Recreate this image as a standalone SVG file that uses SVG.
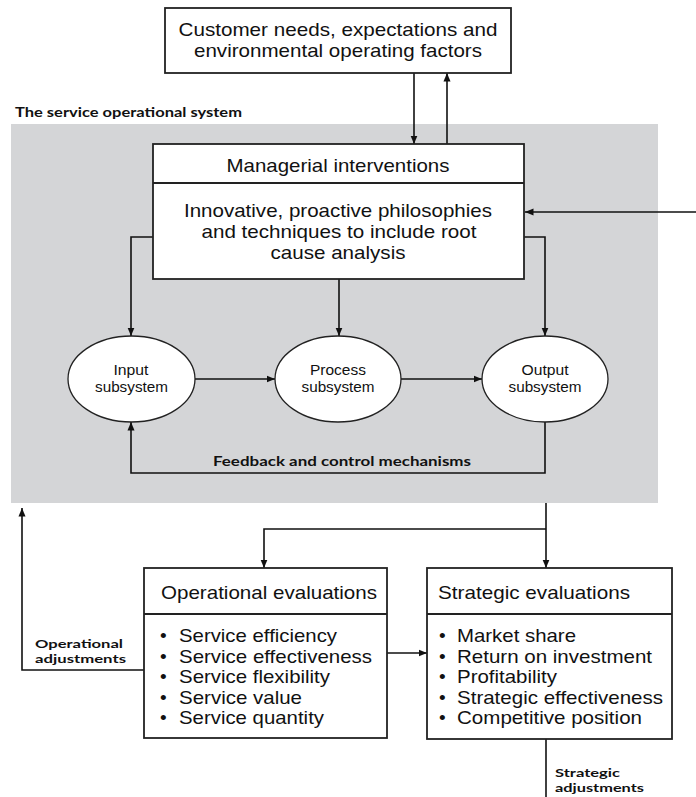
<svg xmlns="http://www.w3.org/2000/svg" width="696" height="797" viewBox="0 0 696 797">
<defs>
<marker id="ah" markerUnits="userSpaceOnUse" markerWidth="9" markerHeight="8" refX="8.5" refY="4" orient="auto">
<path d="M0,0.5 L8.5,4 L0,7.5 z" fill="#111"/>
</marker>
<style>
.box{fill:#fff;stroke:#222;stroke-width:1.8}
.ell{fill:#fff;stroke:#222;stroke-width:1.3}
.ln{fill:none;stroke:#111;stroke-width:1.6}
.t{font-family:"Liberation Sans",Arial,sans-serif;font-size:19px;fill:#111}
.e{font-family:"Liberation Sans",Arial,sans-serif;font-size:15px;fill:#111}
.b{font-family:Lato,"Open Sans",sans-serif;font-weight:700;font-size:13px;fill:#111}
.s{font-family:Lato,"Open Sans",sans-serif;font-weight:700;font-size:12px;fill:#111}
</style>
</defs>
<rect width="696" height="797" fill="#fff"/>
<text class="b" x="15" y="117" textLength="227" lengthAdjust="spacingAndGlyphs">The service operational system</text>
<rect x="11" y="124" width="647" height="379" fill="#d4d5d7"/>

<g id="connectors">
<line class="ln" x1="414" y1="73" x2="414" y2="144" marker-end="url(#ah)"/>
<line class="ln" x1="447" y1="144" x2="447" y2="73" marker-end="url(#ah)"/>
<line class="ln" x1="696" y1="212" x2="525" y2="212" marker-end="url(#ah)"/>
<polyline class="ln" points="153,237 131,237 131,336" marker-end="url(#ah)"/>
<line class="ln" x1="339" y1="279" x2="339" y2="336" marker-end="url(#ah)"/>
<polyline class="ln" points="524,237 545,237 545,336" marker-end="url(#ah)"/>
<line class="ln" x1="195" y1="379" x2="275" y2="379" marker-end="url(#ah)"/>
<line class="ln" x1="401" y1="379" x2="482" y2="379" marker-end="url(#ah)"/>
<polyline class="ln" points="545,422 545,473 131,473 131,422" marker-end="url(#ah)"/>
<text class="b" x="213" y="466" textLength="258" lengthAdjust="spacingAndGlyphs">Feedback and control mechanisms</text>
<polyline class="ln" points="546,503 546,568" marker-end="url(#ah)"/>
<polyline class="ln" points="546,529 264,529 264,568" marker-end="url(#ah)"/>
<line class="ln" x1="386" y1="653" x2="427" y2="653" marker-end="url(#ah)"/>
<polyline class="ln" points="144,670 22,670 22,508" marker-end="url(#ah)"/>
<text class="s" x="35" y="648" textLength="88" lengthAdjust="spacingAndGlyphs">Operational</text>
<text class="s" x="35" y="663" textLength="91" lengthAdjust="spacingAndGlyphs">adjustments</text>
<line class="ln" x1="546" y1="739" x2="546" y2="797"/>
<text class="s" x="555" y="777" textLength="65" lengthAdjust="spacingAndGlyphs">Strategic</text>
<text class="s" x="555" y="792" textLength="89" lengthAdjust="spacingAndGlyphs">adjustments</text>
</g>

<g id="customer">
<rect class="box" x="165" y="8" width="346" height="65"/>
<text class="t" x="338" y="36" text-anchor="middle" textLength="319" lengthAdjust="spacingAndGlyphs">Customer needs, expectations and</text>
<text class="t" x="338" y="57" text-anchor="middle" textLength="288" lengthAdjust="spacingAndGlyphs">environmental operating factors</text>
</g>

<g id="managerial">
<rect class="box" x="153" y="144" width="371" height="135"/>
<line class="box" x1="153" y1="183" x2="524" y2="183"/>
<text class="t" x="338" y="172" text-anchor="middle" textLength="223" lengthAdjust="spacingAndGlyphs">Managerial interventions</text>
<text class="t" x="338" y="217" text-anchor="middle" textLength="308" lengthAdjust="spacingAndGlyphs">Innovative, proactive philosophies</text>
<text class="t" x="339" y="238" text-anchor="middle" textLength="275" lengthAdjust="spacingAndGlyphs">and techniques to include root</text>
<text class="t" x="338" y="259" text-anchor="middle" textLength="135" lengthAdjust="spacingAndGlyphs">cause analysis</text>
</g>

<g id="input">
<ellipse class="ell" cx="131.5" cy="379" rx="63.5" ry="43"/>
<text class="e" x="131" y="375" text-anchor="middle" textLength="35" lengthAdjust="spacingAndGlyphs">Input</text>
<text class="e" x="131.5" y="392" text-anchor="middle" textLength="73" lengthAdjust="spacingAndGlyphs">subsystem</text>
</g>

<g id="process">
<ellipse class="ell" cx="338" cy="379" rx="63" ry="43"/>
<text class="e" x="338" y="375" text-anchor="middle" textLength="56" lengthAdjust="spacingAndGlyphs">Process</text>
<text class="e" x="338" y="392" text-anchor="middle" textLength="73" lengthAdjust="spacingAndGlyphs">subsystem</text>
</g>

<g id="output">
<ellipse class="ell" cx="545" cy="379" rx="63" ry="43"/>
<text class="e" x="545" y="375" text-anchor="middle" textLength="47" lengthAdjust="spacingAndGlyphs">Output</text>
<text class="e" x="545" y="392" text-anchor="middle" textLength="73" lengthAdjust="spacingAndGlyphs">subsystem</text>
</g>

<g id="operational">
<rect class="box" x="144" y="568" width="243" height="170"/>
<line class="box" x1="144" y1="614" x2="387" y2="614"/>
<text class="t" x="161" y="599" textLength="216" lengthAdjust="spacingAndGlyphs">Operational evaluations</text>
<text class="t" x="160" y="642">•</text>
<text class="t" x="160" y="662.5">•</text>
<text class="t" x="160" y="683">•</text>
<text class="t" x="160" y="703.5">•</text>
<text class="t" x="160" y="724">•</text>
<text class="t" x="179" y="642" textLength="158" lengthAdjust="spacingAndGlyphs">Service efficiency</text>
<text class="t" x="179" y="662.5" textLength="193" lengthAdjust="spacingAndGlyphs">Service effectiveness</text>
<text class="t" x="179" y="683" textLength="151" lengthAdjust="spacingAndGlyphs">Service flexibility</text>
<text class="t" x="179" y="703.5" textLength="123" lengthAdjust="spacingAndGlyphs">Service value</text>
<text class="t" x="179" y="724" textLength="145" lengthAdjust="spacingAndGlyphs">Service quantity</text>
</g>

<g id="strategic">
<rect class="box" x="427" y="568" width="245" height="171"/>
<line class="box" x1="427" y1="614" x2="672" y2="614"/>
<text class="t" x="438" y="599" textLength="192" lengthAdjust="spacingAndGlyphs">Strategic evaluations</text>
<text class="t" x="439" y="642">•</text>
<text class="t" x="439" y="662.5">•</text>
<text class="t" x="439" y="683">•</text>
<text class="t" x="439" y="703.5">•</text>
<text class="t" x="439" y="724">•</text>
<text class="t" x="457" y="642" textLength="119" lengthAdjust="spacingAndGlyphs">Market share</text>
<text class="t" x="457" y="662.5" textLength="195" lengthAdjust="spacingAndGlyphs">Return on investment</text>
<text class="t" x="457" y="683" textLength="100" lengthAdjust="spacingAndGlyphs">Profitability</text>
<text class="t" x="457" y="703.5" textLength="206" lengthAdjust="spacingAndGlyphs">Strategic effectiveness</text>
<text class="t" x="457" y="724" textLength="185" lengthAdjust="spacingAndGlyphs">Competitive position</text>
</g>
</svg>
